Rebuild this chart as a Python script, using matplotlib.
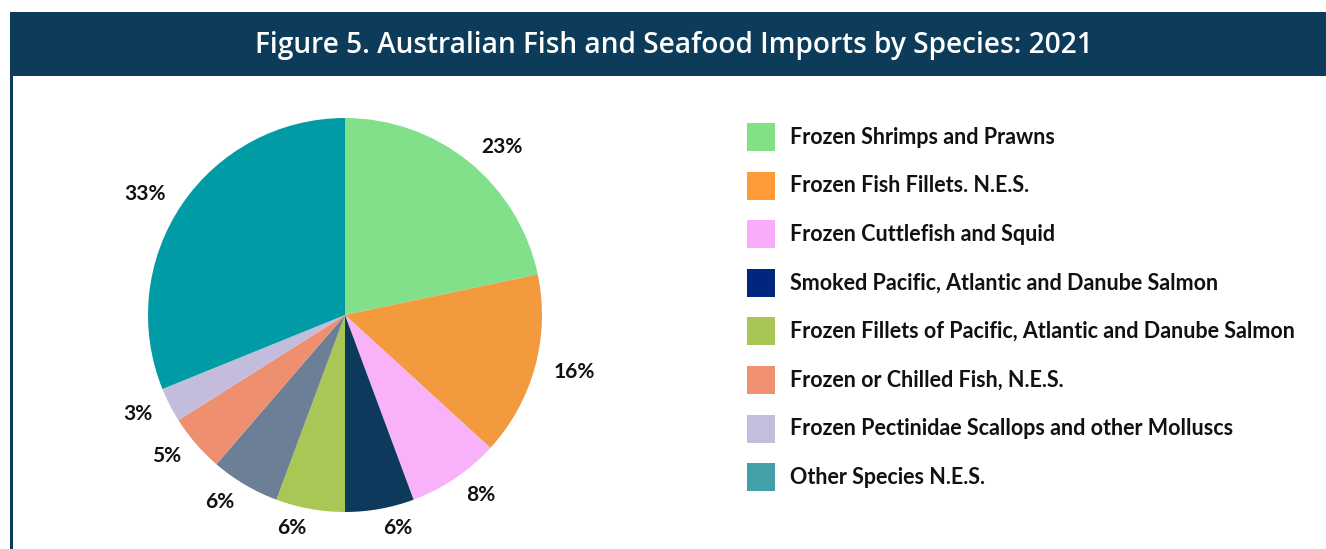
import matplotlib
matplotlib.use("Agg")
import matplotlib.pyplot as plt
from matplotlib.patches import Rectangle

# slice shares (percent) in drawing order, clockwise from 12 o'clock
slice_values = [23, 16, 8, 6, 6, 6, 5, 3, 33]
slice_colors = ["#82e08a", "#f39a3f", "#f9b2f9", "#0d3a5c", "#a9c755",
                "#6c7f96", "#ee9070", "#c4bcdc", "#019ba6"]

legend_names = [
    "Frozen Shrimps and Prawns",
    "Frozen Fish Fillets. N.E.S.",
    "Frozen Cuttlefish and Squid",
    "Smoked Pacific, Atlantic and Danube Salmon",
    "Frozen Fillets of Pacific, Atlantic and Danube Salmon",
    "Frozen or Chilled Fish, N.E.S.",
    "Frozen Pectinidae Scallops and other Molluscs",
    "Other Species N.E.S.",
]
legend_colors = ["#82e085", "#ff9a38", "#f8acf9", "#00267e",
                 "#a8c655", "#ef9070", "#c4bedd", "#43a0a8"]

title = "Figure 5. Australian Fish and Seafood Imports by Species: 2021"
navy = "#0d3b5a"

W, H = 1326, 549
fig = plt.figure(figsize=(W / 100, H / 100), dpi=100)
fig.patch.set_facecolor("white")

def fx(px):
    return px / W

def fy(py):
    return 1 - py / H

# header band and left rule
fig.add_artist(Rectangle((fx(10), fy(76)), fx(W - 10), 64 / H,
                         transform=fig.transFigure, color=navy, lw=0))
fig.add_artist(Rectangle((fx(10), 0), fx(3), fy(76),
                         transform=fig.transFigure, color=navy, lw=0))
fig.text(fx(674), fy(45), title, color="white", ha="center", va="center",
         fontsize=20.2, family="Open Sans", weight="semibold")

# pie
cx, cy, r = 345, 315, 197
ax = fig.add_axes([fx(cx - r), fy(cy + r), 2 * r / W, 2 * r / H])
labels = [f"{v}%" for v in slice_values]
ax.pie(slice_values, colors=slice_colors, labels=labels, startangle=90,
       counterclock=False, labeldistance=1.1,
       wedgeprops=dict(linewidth=0),
       textprops=dict(fontsize=15, family="Lato", weight="bold",
                      color="#111111"))
ax.set_xlim(-1, 1)
ax.set_ylim(-1, 1)
ax.set_aspect("equal")

# legend drawn as boxes and text
for i, (name, color) in enumerate(zip(legend_names, legend_colors)):
    yc = 137 + i * 48.6
    fig.add_artist(Rectangle((fx(747), fy(yc + 14)), fx(28), 28 / H,
                             transform=fig.transFigure, color=color, lw=0))
    fig.text(fx(790), fy(yc), name, ha="left", va="center", fontsize=15.5,
             family="Lato", weight="bold", color="#111111")

fig.savefig("out.png", dpi=100, facecolor="white")
